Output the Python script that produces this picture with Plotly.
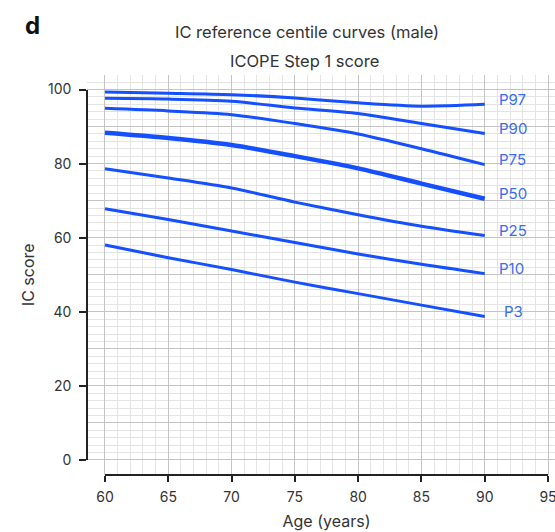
import plotly.graph_objects as go

ages = [60, 65, 70, 75, 80, 85, 90]
centile_names = ["P97", "P90", "P75", "P50", "P25", "P10", "P3"]
p97 = [99.3, 99.0, 98.6, 97.7, 96.4, 95.5, 96.0]
p90 = [97.6, 97.4, 96.8, 95.0, 93.5, 90.8, 88.1]
p75 = [94.9, 94.2, 93.2, 90.8, 88.0, 84.0, 79.7]
p50 = [88.3, 86.9, 85.0, 82.0, 78.7, 74.6, 70.5]
p25 = [78.6, 76.1, 73.4, 69.6, 66.2, 63.1, 60.6]
p10 = [67.8, 64.9, 61.8, 58.7, 55.6, 52.8, 50.3]
p3 = [58.0, 54.6, 51.4, 48.0, 44.9, 41.8, 38.7]
series = [p97, p90, p75, p50, p25, p10, p3]

y_ticks = [0, 20, 40, 60, 80, 100]
x_ticks = [60, 65, 70, 75, 80, 85, 90, 95]

LINE = "#1450ff"
LABEL = "#3a6cf2"
FONT = "Inter, Roboto, sans-serif"
TXT = "#333333"

fig = go.Figure()
for name, vals in zip(centile_names, series):
    fig.add_trace(go.Scatter(
        x=ages, y=vals, mode="lines", name=name,
        line=dict(color=LINE, width=4.5 if name == "P50" else 3, shape="spline", smoothing=0.8),
        showlegend=False, hoverinfo="skip"))
    fig.add_annotation(x=ages[-1] + (1.35 if name == "P3" else 0.95), y=vals[-1] + 1.4,
                       text=name, showarrow=False, xanchor="left", yanchor="middle",
                       font=dict(family=FONT, size=15, color=LABEL))

# dummy trace for the spine axes
fig.add_trace(go.Scatter(x=[], y=[], xaxis="x2", yaxis="y2", showlegend=False))

W, H = 555, 532
L, R, T, B = 87, 0, 75, 57
pw, ph = W - L - R, H - T - B

fig.update_layout(
    width=W, height=H,
    margin=dict(l=L, r=R, t=T, b=B, autoexpand=False),
    paper_bgcolor="white", plot_bgcolor="rgba(0,0,0,0)",
    font=dict(family=FONT, color=TXT, size=14),
    xaxis=dict(range=[58.58, 95.55], showline=False, zeroline=False,
               showticklabels=False, ticks="",
               tickmode="array", tickvals=x_ticks, showgrid=True, gridcolor="#c4c4c4", gridwidth=1.3,
               minor=dict(tickmode="array", tickvals=list(range(60, 96)), ticks="", showgrid=True,
                          gridcolor="#e4e4e4", gridwidth=1.3)),
    yaxis=dict(range=[-4.05, 103.9], showline=False, zeroline=False,
               showticklabels=False, ticks="",
               tickmode="array", tickvals=list(range(0, 101, 10)), showgrid=True,
               gridcolor="#c4c4c4", gridwidth=1.3,
               minor=dict(tickmode="array", tickvals=list(range(0, 105, 2)), ticks="", showgrid=True,
                          gridcolor="#e4e4e4", gridwidth=1.3)),
    xaxis2=dict(domain=[(105 - L) / pw, (548 - L) / pw], range=[60, 95],
                anchor="free", position=0, showgrid=False, zeroline=False,
                showline=True, linecolor="#222222", linewidth=1.5,
                ticks="outside", ticklen=6, tickcolor="#222222", tickwidth=1.5,
                tickvals=x_ticks, tickfont=dict(size=14, color=TXT), ticklabelstandoff=3,
                ticklabeloverflow="allow",
                title=dict(text="Age (years)", font=dict(size=16, color=TXT), standoff=11)),
    yaxis2=dict(domain=[(T + ph - 460) / ph, (T + ph - 89.5) / ph], range=[0, 100],
                anchor="free", position=0, showgrid=False, zeroline=False,
                showline=True, linecolor="#222222", linewidth=1.5,
                ticks="outside", ticklen=7, tickcolor="#222222", tickwidth=1.5,
                tickvals=y_ticks, tickfont=dict(size=14, color=TXT), ticklabelstandoff=5,
                title=dict(text="IC score", font=dict(size=16, color=TXT), standoff=8)),
)

fig.add_annotation(xref="paper", yref="paper", x=(307 - L) / pw, y=(H - 32 - B) / ph,
                   text="IC reference centile curves (male)", showarrow=False,
                   xanchor="center", yanchor="middle", font=dict(size=16.5, color=TXT))
fig.add_annotation(xref="paper", yref="paper", x=(304 - L) / pw, y=(H - 61 - B) / ph,
                   text="ICOPE Step 1 score", showarrow=False,
                   xanchor="center", yanchor="middle", font=dict(size=16.5, color=TXT))
fig.add_annotation(xref="paper", yref="paper", x=(23 - L) / pw, y=(H - 25 - B) / ph,
                   text="<b>d</b>", showarrow=False,
                   xanchor="left", yanchor="middle", font=dict(size=24, color="#111111"))

fig.write_html("out.html", config={"displayModeBar": False},
               post_script="document.body.style.margin='0';")
